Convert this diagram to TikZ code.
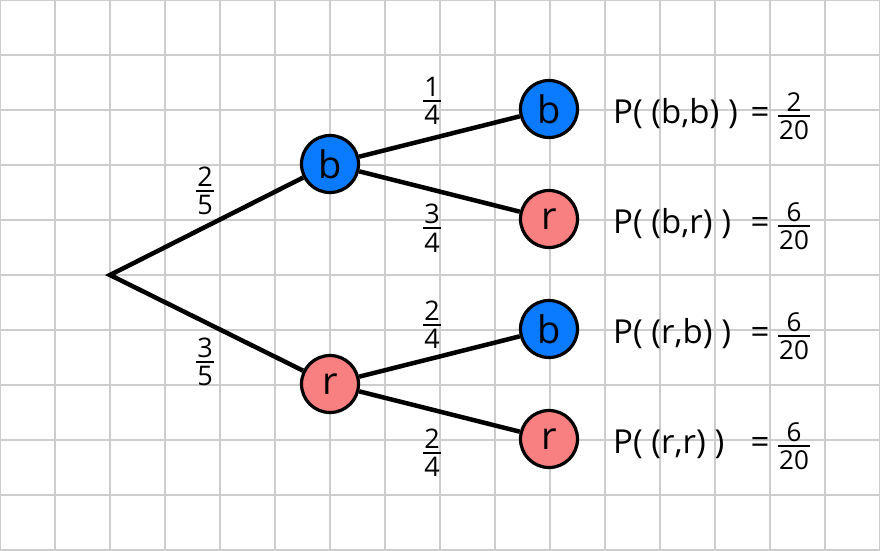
\documentclass[tikz,border=0pt]{standalone}
\usepackage{fontspec}
\setmainfont{Open Sans}
\definecolor{gridgray}{RGB}{205,205,205}
\definecolor{nodeblue}{RGB}{10,122,255}
\definecolor{nodered}{RGB}{248,128,128}
\newlength\frw
\newcommand\myfrac[2]{%
  \begingroup
  \setbox0=\hbox{#1}\setbox2=\hbox{#2}%
  \frw=\wd0 \ifdim\wd2>\frw \frw=\wd2\fi
  \advance\frw by 2pt
  \vbox{\hbox to\frw{\hss\box0\hss}\kern3.5pt\hrule height1.8pt\kern3.5pt\hbox to\frw{\hss\box2\hss}}%
  \endgroup}
\tikzset{
  ball/.style={circle, draw=black, line width=3.2pt, minimum size=57pt, inner sep=0pt,
    font=\fontsize{38}{44}\selectfont},
  blueball/.style={ball, fill=nodeblue},
  redball/.style={ball, fill=nodered},
  branch/.style={line width=4.5pt, black},
  elabel/.style={inner sep=0pt, font=\fontsize{27}{32}\selectfont},
  plabel/.style={inner sep=0pt, anchor=base west, font=\fontsize{33}{38}\selectfont},
  eqlabel/.style={inner sep=0pt, anchor=base, font=\fontsize{33}{38}\selectfont},
  rfrac/.style={inner sep=0pt, font=\fontsize{26}{30}\selectfont},
}
\begin{document}
\begin{tikzpicture}[x=1pt,y=-1pt]
  \useasboundingbox (0,0) rectangle (880,550);
  \fill[white] (0,0) rectangle (880,550);
  \foreach \gx in {0,55,...,880} \draw[gridgray, line width=1.3pt] (\gx,0) -- (\gx,550);
  \foreach \gy in {0,55,...,550} \draw[gridgray, line width=1.3pt] (0,\gy) -- (880,\gy);

  \coordinate (root) at (110,275);
  \node[blueball] (b1) at (330,164) {b};
  \node[redball]  (r1) at (330,384) {r};
  \node[blueball] (bb) at (549,109) {b};
  \node[redball]  (br) at (549,219) {r};
  \node[blueball] (rb) at (549,329) {b};
  \node[redball]  (rr) at (549,439) {r};

  \draw[branch] (b1) -- (root) -- (r1);
  \draw[branch] (b1) -- (bb);
  \draw[branch] (b1) -- (br);
  \draw[branch] (r1) -- (rb);
  \draw[branch] (r1) -- (rr);

  \node[elabel] (l25) at (205,191) {\myfrac{2}{5}};
  \node[elabel] (l35) at (205,362) {\myfrac{3}{5}};
  \node[elabel] (l14) at (432,101) {\myfrac{1}{4}};
  \node[elabel] (l34) at (432,228) {\myfrac{3}{4}};
  \node[elabel] (l24a) at (432,325) {\myfrac{2}{4}};
  \node[elabel] (l24b) at (432,453) {\myfrac{2}{4}};

  \node[plabel] (p1) at (613,123) {P( (b,b) )};
  \node[plabel] (p2) at (613,233) {P( (b,r) )};
  \node[plabel] (p3) at (613,343) {P( (r,b) )};
  \node[plabel] (p4) at (613,453) {P( (r,r) )};
  \node[eqlabel] (e1) at (760,123) {=};
  \node[eqlabel] (e2) at (760,233) {=};
  \node[eqlabel] (e3) at (760,343) {=};
  \node[eqlabel] (e4) at (760,453) {=};
  \node[rfrac] (f1) at (794,116) {\myfrac{2}{20}};
  \node[rfrac] (f2) at (794,226) {\myfrac{6}{20}};
  \node[rfrac] (f3) at (794,336) {\myfrac{6}{20}};
  \node[rfrac] (f4) at (794,446) {\myfrac{6}{20}};
\end{tikzpicture}
\end{document}
